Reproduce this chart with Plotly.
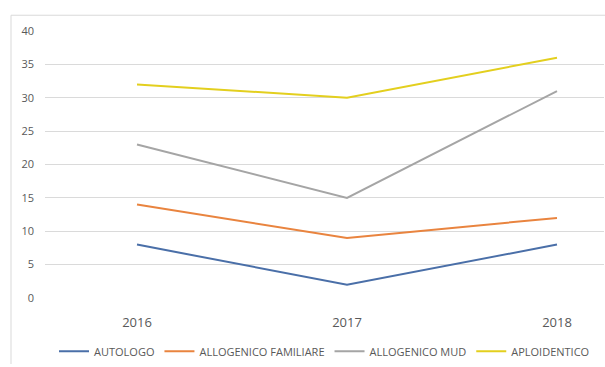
import plotly.graph_objects as go

years = ["2016", "2017", "2018"]
autologo = [8, 2, 8]
allo_fam = [14, 9, 12]
allo_mud = [23, 15, 31]
aploidentico = [32, 30, 36]

series = [
    ("AUTOLOGO", autologo, "#4A6FA8"),
    ("ALLOGENICO FAMILIARE", allo_fam, "#E9843F"),
    ("ALLOGENICO MUD", allo_mud, "#A5A5A5"),
    ("APLOIDENTICO", aploidentico, "#E3CF1E"),
]

fig = go.Figure()
for name, vals, col in series:
    fig.add_trace(go.Scatter(x=years, y=vals, mode="lines", name=name,
                             line=dict(color=col, width=2)))

W, H = 605, 367
l, r, t, b = 45, 1, 31, 65
pw, ph = W - l - r, H - t - b

fig.update_layout(
    width=W, height=H,
    margin=dict(l=l, r=r, t=t, b=b),
    paper_bgcolor="white", plot_bgcolor="white",
    font=dict(family="Open Sans, Liberation Sans, sans-serif", color="#595959"),
    showlegend=True,
    legend=dict(orientation="h", x=0.5, xanchor="center", y=-0.145, yanchor="top",
                font=dict(size=11, color="#595959"), traceorder="normal",
                itemwidth=30, tracegroupgap=0),
    xaxis=dict(type="category", range=[-92/210, 2 + 47/210], showgrid=False,
               showline=False, ticks="", tickfont=dict(size=13, color="#595959"),
               ticklabelstandoff=15),
    yaxis=dict(range=[0, 40], dtick=5, showgrid=True, gridcolor="#DADADA",
               gridwidth=1, zeroline=False, showline=False,
               tickfont=dict(size=11, color="#595959"), ticklabelstandoff=10),
    shapes=[
        dict(type="line", xref="paper", yref="paper",
             x0=(11 - l) / pw, x1=1.01, y0=1 + 16 / ph, y1=1 + 16 / ph,
             line=dict(color="#D9D9D9", width=1)),
        dict(type="line", xref="paper", yref="paper",
             x0=(11 - l) / pw, x1=(11 - l) / pw, y0=1 + 16 / ph, y1=-(b + 2) / ph,
             line=dict(color="#D9D9D9", width=1)),
    ],
)

fig.write_html("out.html")
